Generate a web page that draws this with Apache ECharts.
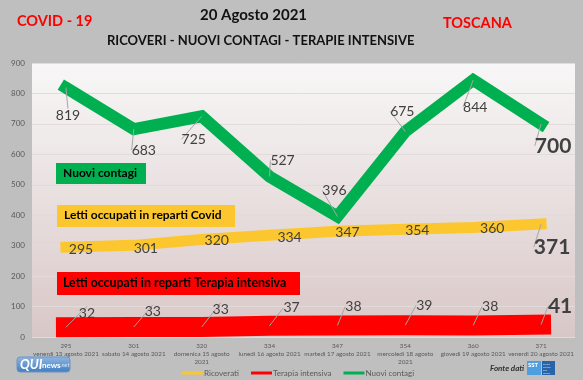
<!DOCTYPE html>
<html>
<head>
<meta charset="utf-8">
<script src="https://cdn.jsdelivr.net/npm/echarts@6/dist/echarts.min.js"></script>
<style>
html,body{margin:0;padding:0;background:#bfbfbf;}
#chart{width:583px;height:380px;}
</style>
</head>
<body>
<div id="chart"></div>
<script>
const dates = ["venerdì 13 agosto 2021","sabato 14 agosto 2021","domenica 15 agosto\n2021","lunedì 16 agosto 2021","martedì 17 agosto 2021","mercoledì 18 agosto\n2021","giovedì 19 agosto 2021","venerdì 20 agosto 2021"];
const ricoverati = [295,301,320,334,347,354,360,371];
const terapia = [32,33,33,37,38,39,38,41];
const contagi = [819,683,725,527,396,675,844,700];
const yTicks = [0,100,200,300,400,500,600,700,800,900];

// label offsets (layout only)
const offContagi = [[2,28],[10,21],[-8,23],[13,-16],[-3,-26],[-3,-20],[2,27],[12,22]];
const offRic = [[15,2],[12,3],[15,1],[20,2],[10,1],[12,1],[19,1],[11,23]];
const offTer = [[21,-14],[19,-15],[19,-17],[22,-18],[16,-19],[19,-20],[17,-19],[19,-18]];

const FONT = 'Lato';
const last = dates.length - 1;

function mkData(vals, leaderAll){
  return vals.map((v,i)=> {
    if (i===last) return {value:v, label:{fontSize:21,fontWeight:'bold'}, labelLine:{show:true}};
    return leaderAll ? v : {value:v, labelLine:{show:false}};
  });
}
function layoutFn(off){
  return function(p){ const o = off[p.dataIndex]; return {dx:o[0], dy:o[1]}; };
}
const labelBase = {show:true, position:'inside', color:'#404040', fontSize:14, fontFamily:FONT};

function lineSeries(name, vals, color, width, off, z, leaderAll){
  return {name:name, type:'line', data:mkData(vals, leaderAll), symbol:'circle', symbolSize:0, showSymbol:true, z:z,
    lineStyle:{color:color, width:width, cap:'square', join:'miter'}, itemStyle:{color:color},
    emphasis:{disabled:true},
    label:labelBase, labelLayout:layoutFn(off),
    labelLine:{show:true, lineStyle:{color:'#a6a6a6', width:1}}};
}

const chart = echarts.init(document.getElementById('chart'));
chart.setOption({
  backgroundColor:'#bfbfbf',
  animation:false,
  textStyle:{fontFamily:FONT},
  grid:{left:32, right:8, top:63, bottom:43, show:true, borderWidth:0,
    backgroundColor:{type:'linear',x:0,y:0,x2:0,y2:1,colorStops:[{offset:0,color:'#f8f7f7'},{offset:1,color:'#d9c7c7'}]}},
  xAxis:{type:'category', data:dates, boundaryGap:true,
    axisLine:{show:false}, axisTick:{show:false},
    axisLabel:{interval:0, margin:5, fontSize:6.3, lineHeight:8, color:'#595959', fontFamily:FONT,
      formatter:(v,i)=> ricoverati[i] + '\n' + v}},
  yAxis:{type:'value', min:0, max:900, interval:100,
    axisLine:{show:false}, axisTick:{show:false},
    axisLabel:{fontSize:8, color:'#595959', margin:7, fontFamily:FONT},
    splitLine:{lineStyle:{color:'#e3dada', width:1}}},
  legend:{left:177, top:364, itemWidth:21, itemHeight:3, itemGap:12, icon:'rect',
    textStyle:{fontSize:8, color:'#595959', fontFamily:FONT, padding:[0,0,0,-4]},
    data:['Ricoverati','Terapia intensiva','Nuovi contagi']},
  series:[
    lineSeries('Terapia intensiva', terapia, '#ff0000', 20, offTer, 2, true),
    lineSeries('Ricoverati', ricoverati, '#fcc72e', 11, offRic, 3, false),
    lineSeries('Nuovi contagi', contagi, '#00b050', 12, offContagi, 4, true)
  ],
  graphic:[
    {type:'text', left:17, top:14, z:100, style:{text:'COVID - 19', fill:'#ff0000', font:'bold 14.5px '+FONT}},
    {type:'text', left:200, top:8, z:100, style:{text:'20 Agosto 2021', fill:'#111', font:'bold 15px '+FONT}},
    {type:'text', left:107, top:34, z:100, style:{text:'RICOVERI - NUOVI CONTAGI - TERAPIE INTENSIVE', fill:'#111', font:'bold 13px '+FONT}},
    {type:'text', left:443, top:16, z:100, style:{text:'TOSCANA', fill:'#ff0000', font:'bold 14.5px '+FONT}},
    {type:'rect', z:100, shape:{x:56,y:163,width:90,height:21}, style:{fill:'#00b050'}},
    {type:'text', z:101, x:63, y:167, style:{text:'Nuovi contagi', fill:'#000', font:'bold 12px '+FONT}},
    {type:'rect', z:100, shape:{x:57,y:205,width:178,height:22}, style:{fill:'#fcc72e'}},
    {type:'text', z:101, x:64, y:209, style:{text:'Letti occupati in reparti Covid', fill:'#000', font:'bold 12px '+FONT}},
    {type:'rect', z:100, shape:{x:57,y:272,width:243,height:23}, style:{fill:'#ff0000'}},
    {type:'text', z:101, x:63, y:277, style:{text:'Letti occupati in reparti Terapia intensiva', fill:'#000', font:'bold 12.4px '+FONT}},
    {type:'rect', z:100, shape:{x:17,y:357,width:53,height:15,r:3}, style:{fill:{type:'linear',x:0,y:0,x2:0,y2:1,colorStops:[{offset:0,color:'#8fb8e3'},{offset:1,color:'#3f7cc0'}]}, stroke:'#6d96c4'}},
    {type:'text', z:101, x:20, y:358, style:{text:'QUI', fill:'#fff', font:'italic bold 13px '+FONT}},
    {type:'text', z:101, x:42, y:361, style:{text:'news', fill:'#fff', font:'bold 8px '+FONT}},
    {type:'text', z:101, x:60, y:362, style:{text:'.net', fill:'#dbe8f6', font:'italic 6px '+FONT}},
    {type:'text', z:100, x:490, y:364, style:{text:'Fonte dati', fill:'#333', font:'italic bold 8px '+FONT}},
    {type:'rect', z:100, shape:{x:527,y:361,width:14,height:14}, style:{fill:'#4f9fe0'}},
    {type:'text', z:101, x:528, y:362, style:{text:'SST', fill:'#fff', font:'bold 6px '+FONT}},
    {type:'rect', z:100, shape:{x:542,y:361,width:13,height:14}, style:{fill:'#2864a8'}},
    {type:'text', z:101, x:543, y:363, style:{text:'Servizio\nSanitario\ndella\nToscana', fill:'#cfe0f3', font:'2px '+FONT, lineHeight:3}}
  ]
});
</script>
</body>
</html>
